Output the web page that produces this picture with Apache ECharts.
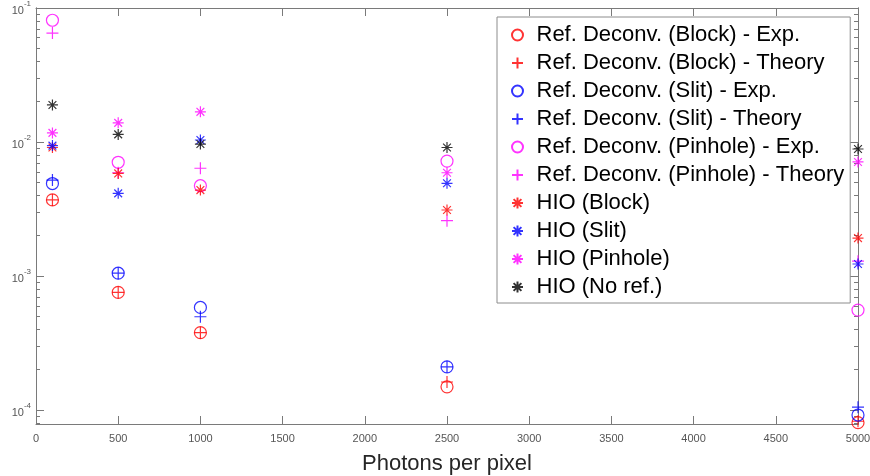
<!DOCTYPE html>
<html><head><meta charset="utf-8">
<script src="https://cdn.jsdelivr.net/npm/echarts@6/dist/echarts.min.js"></script>
<style>html,body{margin:0;padding:0;background:#fff}#c{width:870px;height:476px}</style>
</head><body><div id="c"></div>
<script>
const photons = [100, 500, 1000, 2500, 5000];
const seriesNames = [
  'Ref. Deconv. (Block) - Exp.', 'Ref. Deconv. (Block) - Theory',
  'Ref. Deconv. (Slit) - Exp.', 'Ref. Deconv. (Slit) - Theory',
  'Ref. Deconv. (Pinhole) - Exp.', 'Ref. Deconv. (Pinhole) - Theory',
  'HIO (Block)', 'HIO (Slit)', 'HIO (Pinhole)', 'HIO (No ref.)'
];
const blockExp      = [0.0037, 0.000755, 0.000378, 0.000149, 0.0000805];
const blockTheory   = [0.0037, 0.000755, 0.000378, 0.000162, 0.0000825];
const slitExp       = [0.0049, 0.00105, 0.000583, 0.00021, 0.0000918];
const slitTheory    = [0.0052, 0.00105, 0.000497, 0.00021, 0.000105];
const pinholeExp    = [0.081, 0.00706, 0.00472, 0.00721, 0.000557];
const pinholeTheory = [0.065, 0.0059, 0.00637, 0.00259, 0.00129];
const hioBlock      = [0.0091, 0.00583, 0.00438, 0.00311, 0.00192];
const hioSlit       = [0.0094, 0.00414, 0.01035, 0.00492, 0.00123];
const hioPinhole    = [0.0117, 0.0139, 0.0168, 0.0059, 0.0071];
const hioNoRef      = [0.0189, 0.0114, 0.00966, 0.0091, 0.00887];
const yMajorTicks = [1e-4, 1e-3, 1e-2, 1e-1];

const Y_MIN = 7.87e-5, Y_MAX = 0.1;
const yMinorTicks = [];
for (let d = -5; d <= -2; d++) for (let m = 2; m <= 9; m++) {
  const v = m * Math.pow(10, d);
  if (v >= Y_MIN && v <= Y_MAX) yMinorTicks.push(v);
}
const RED = '#ff0000', BLUE = '#0000ff', MAG = '#ff00ff', BLK = '#000000';
const CIRCLE = 'circle';
const PLUS = 'path://M0,5L10,5M5,0L5,10';
const STAR = 'path://M5,0L5,10M0,5L10,5M1.46,1.46L8.54,8.54M1.46,8.54L8.54,1.46';
const AXC = '#7a7a7a';

const defs = [
  [blockExp, RED, CIRCLE, 12], [blockTheory, RED, PLUS, 12],
  [slitExp, BLUE, CIRCLE, 12], [slitTheory, BLUE, PLUS, 12],
  [pinholeExp, MAG, CIRCLE, 12], [pinholeTheory, MAG, PLUS, 12],
  [hioBlock, RED, STAR, 11], [hioSlit, BLUE, STAR, 11],
  [hioPinhole, MAG, STAR, 11], [hioNoRef, BLK, STAR, 11]
];
const series = defs.map((d, i) => ({
  name: seriesNames[i], type: 'scatter', xAxisIndex: 0, yAxisIndex: 0,
  data: photons.map((x, j) => [x, d[0][j]]),
  symbol: d[2], symbolSize: d[3], symbolKeepAspect: true,
  itemStyle: { color: 'transparent', borderColor: d[1], borderWidth: 1.2 },
  emphasis: { disabled: true }, clip: false
}));

function logAxis(pos, ticks, len, label) {
  return {
    type: 'log', logBase: 10, min: Y_MIN, max: Y_MAX, position: pos,
    axisLine: { show: true, lineStyle: { color: AXC, width: 1 } },
    axisTick: { show: true, inside: true, length: len, customValues: ticks, lineStyle: { color: AXC } },
    axisLabel: label ? {
      show: true, customValues: yMajorTicks, margin: 5, color: '#555',
      formatter: v => '{b|10}{s|' + Math.round(Math.log10(v)) + '}',
      rich: {
        b: { fontSize: 11, fontFamily: 'Liberation Sans', color: '#555', lineHeight: 16, verticalAlign: 'bottom' },
        s: { fontSize: 8, fontFamily: 'Liberation Sans', color: '#555', lineHeight: 8, verticalAlign: 'top' }
      }
    } : { show: false },
    splitLine: { show: false }, minorTick: { show: false }
  };
}

const chart = echarts.init(document.getElementById('c'), null, { renderer: 'canvas' });
chart.setOption({
  animation: false,
  backgroundColor: '#fff',
  grid: { left: 36, right: 12, top: 8, bottom: 52, containLabel: false, outerBoundsMode: 'none' },
  xAxis: [
    { type: 'value', min: 0, max: 5000, interval: 500, position: 'bottom',
      name: 'Photons per pixel', nameLocation: 'middle', nameGap: 29,
      nameTextStyle: { fontSize: 22, fontFamily: 'Liberation Sans', color: '#262626' },
      axisLine: { show: true, lineStyle: { color: AXC } },
      axisTick: { show: true, inside: true, length: 8, lineStyle: { color: AXC } },
      axisLabel: { show: true, margin: 9, fontSize: 11, fontFamily: 'Liberation Sans', color: '#555',
        formatter: v => String(v) },
      splitLine: { show: false } },
    { type: 'value', min: 0, max: 5000, interval: 500, position: 'top',
      axisLine: { show: true, lineStyle: { color: AXC } },
      axisTick: { show: true, inside: true, length: 8, lineStyle: { color: AXC } },
      axisLabel: { show: false }, splitLine: { show: false } }
  ],
  yAxis: [
    logAxis('left', yMajorTicks, 8, true),
    logAxis('left', yMinorTicks, 4, false),
    logAxis('right', yMajorTicks, 8, false),
    logAxis('right', yMinorTicks, 4, false)
  ],
  legend: {
    orient: 'vertical', left: 497, top: 17,
    padding: [7, 6, 5, 14],
    itemWidth: 28, itemHeight: 11, itemGap: 6,
    borderColor: '#8c8c8c', borderWidth: 1, backgroundColor: '#fff',
    textStyle: { fontSize: 22, fontFamily: 'Liberation Sans', color: '#000', lineHeight: 22 },
    data: seriesNames, selectedMode: false
  },
  series: series
});
</script></body></html>
